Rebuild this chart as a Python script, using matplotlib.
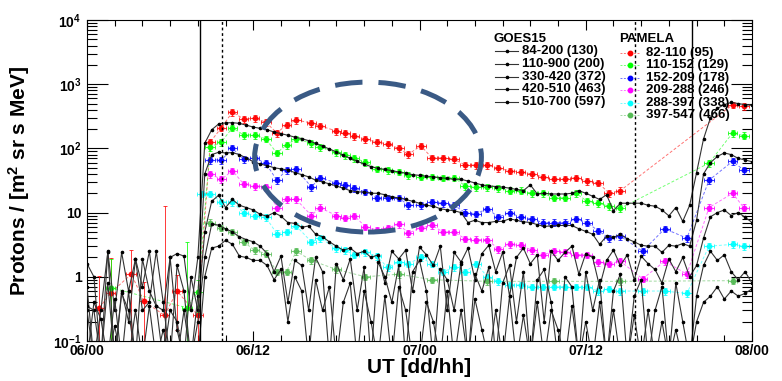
import numpy as np
import matplotlib.pyplot as plt
from matplotlib.patches import Ellipse
from matplotlib.lines import Line2D
from matplotlib.ticker import FixedLocator, NullFormatter, LogLocator

plt.rcParams['font.family'] = ['Liberation Sans', 'DejaVu Sans']
plt.rcParams['font.weight'] = 'bold'
plt.rcParams['mathtext.fontset'] = 'custom'
plt.rcParams['mathtext.rm'] = 'Liberation Sans:bold'
plt.rcParams['mathtext.bf'] = 'Liberation Sans:bold'
plt.rcParams['mathtext.default'] = 'bf'

# ---- GOES15 fluxes, one value every 30 min from 06/00 (0.05 = below range)
goes_84_200 = [
    1.6, 1.0, 0.05, 2.5, 0.3, 2.4, 0.6, 1.9, 0.7, 2.5,
    0.35, 0.3, 2.0, 2.3, 2.1, 0.3, 2.0, 120, 195, 240,
    250, 252, 245, 230, 215, 205, 195, 180, 170, 160,
    150, 142, 132, 120, 108, 98, 88, 78, 70, 63,
    57, 52, 49, 47, 45, 43, 41, 39, 38, 37,
    36, 35, 34, 33, 33, 31, 29, 27, 26, 25.5,
    25, 24, 23, 22, 27, 19.5, 20, 19.5, 19.5, 19.5,
    20, 22, 20, 18, 16, 19, 10.7, 14, 14, 14,
    14, 13, 12.6, 11, 8.9, 12, 7.3, 13, 42, 140,
    300, 420, 480, 520, 500, 480, 470]
goes_110_900 = [
    0.7, 0.05, 0.3, 2.4, 0.05, 0.6, 0.2, 1.9, 0.3, 0.4,
    2.5, 0.4, 0.05, 1.5, 0.6, 0.05, 0.5, 40, 80, 87,
    85, 86, 80, 71, 62, 57, 54, 50, 48, 46,
    42, 39, 36, 32, 30, 28, 26, 24, 22, 21,
    21, 20, 20, 19, 17.5, 17, 16, 15, 14, 13,
    12.6, 11.5, 11, 10.7, 10, 7, 7.6, 7, 7, 7.3,
    7.3, 8, 7.6, 7.2, 7, 6.5, 6.1, 6.2, 6.3, 6.3,
    6.3, 5.6, 5.1, 4.6, 3.2, 4.3, 4.1, 4.6, 3.9, 3.5,
    3.1, 3.0, 3.0, 2.4, 3.1, 3.0, 3.3, 3.0, 7.6, 40,
    60, 75, 85, 80, 70, 66, 62]
goes_330_420 = [
    0.35, 0.3, 0.05, 0.8, 0.05, 0.55, 0.3, 0.05, 1.9, 0.6,
    0.35, 0.05, 2.0, 0.15, 0.05, 1.0, 0.3, 5, 15, 18.6,
    12, 16, 13, 12, 11, 9.4, 8.8, 10, 8.8, 7,
    6.8, 5.9, 6.2, 4.6, 4.2, 3.5, 3.0, 2.6, 2.8, 2.3,
    2.5, 2.0, 2.2, 0.8, 2.5, 1.9, 2.6, 0.6, 2.9, 2.2,
    1.5, 3.0, 0.3, 2.4, 1.7, 2.8, 0.9, 2.3, 3.1, 1.2,
    2.4, 0.5, 2.0, 2.8, 1.6, 2.2, 0.2, 2.5, 1.8, 2.4,
    3.0, 1.1, 2.3, 2.0, 0.7, 1.8, 2.6, 1.5, 2.2, 0.9,
    2.1, 1.6, 1.3, 0.8, 1.9, 1.2, 2.0, 1.0, 1.5, 4,
    8.6, 10, 11, 9, 10, 8.5, 7]
goes_420_510 = [
    0.05, 0.4, 0.22, 0.05, 0.17, 0.05, 0.6, 0.05, 0.05, 0.35,
    0.05, 0.05, 0.3, 0.2, 0.05, 0.05, 0.2, 2, 6.6, 6.4,
    5.6, 5, 4.2, 3.8, 3.5, 3, 2.3, 1.2, 2.1, 0.4,
    1.8, 1.5, 0.3, 2.0, 1.2, 0.05, 1.6, 0.9, 1.9, 0.3,
    1.4, 0.05, 1.7, 1.0, 0.4, 1.5, 0.05, 1.2, 1.8, 0.6,
    0.05, 1.3, 0.9, 0.3, 1.6, 0.05, 1.1, 0.6, 1.4, 0.05,
    0.8, 1.5, 0.2, 1.2, 0.05, 0.9, 1.3, 0.4, 0.05, 1.0,
    0.7, 0.05, 1.2, 0.3, 0.9, 0.05, 0.6, 1.1, 0.05, 0.5,
    0.9, 0.05, 0.3, 0.7, 0.05, 0.8, 0.2, 0.05, 0.5, 1.5,
    2.5, 1.8, 2.2, 1.2, 0.9, 1.2, 0.8]
goes_510_700 = [
    0.3, 0.05, 0.05, 0.05, 0.45, 0.05, 0.05, 0.3, 0.05, 0.05,
    0.05, 0.15, 0.05, 0.05, 0.3, 0.05, 0.05, 1, 2.8, 3.0,
    3.7, 3.2, 2.1, 2.0, 1.8, 1.8, 1.5, 0.9, 1.3, 0.2,
    1.0, 0.6, 0.05, 0.9, 0.3, 0.7, 0.05, 0.4, 0.8, 0.05,
    0.6, 0.2, 0.05, 0.5, 0.05, 0.7, 0.3, 0.05, 0.05, 0.4,
    0.2, 0.05, 0.6, 0.05, 0.3, 0.05, 0.45, 0.15, 0.05, 0.3,
    0.05, 0.5, 0.05, 0.25, 0.05, 0.4, 0.05, 0.3, 0.15, 0.05,
    0.35, 0.05, 0.2, 0.05, 0.4, 0.05, 0.3, 0.05, 0.05, 0.25,
    0.05, 0.3, 0.05, 0.2, 0.05, 0.15, 0.05, 0.05, 0.2, 0.4,
    0.5, 0.7, 0.45, 0.6, 0.5, 0.55, 0.65]
goes_labels = ['84-200 (130)', '110-900 (200)', '330-420 (372)',
               '420-510 (463)', '510-700 (597)']

# ---- PAMELA fluxes (hours since 06/00)
pam_t_main = [8.9, 9.7, 10.5, 11.3, 12.1, 12.9, 13.7, 14.4, 15.1, 16.2,
              16.8, 18.0, 18.6, 19.3, 20.1, 20.9, 21.7, 22.5, 23.2, 24.1,
              24.9, 25.7, 26.5, 27.3, 28.1, 28.9, 29.7, 30.5, 31.3, 32.1,
              32.9, 33.7, 34.5, 35.3, 36.1, 36.9, 37.7, 38.5]
pam_t_late = [40.1, 41.7, 43.3, 44.9, 46.6, 47.4]

red_t = [0.9, 1.7, 3.2, 4.1, 5.6, 6.5, 8.0] + pam_t_main + [46.6, 47.4]
red_v = [0.33, 0.56, 1.1, 0.42, 0.25, 0.6, 0.25,
         126, 210, 369, 287, 294, 257, 174, 232, 276, 249,
         225, 187, 174, 155, 140, 126, 117, 100, 81, 110,
         71, 71, 68, 55, 55, 55, 49, 45, 43, 40,
         36, 33, 33, 35, 31, 29, 20, 22, 480, 450]
red_pre_err = [0.7, 1.4, 1.5, 0.4, 12.4, 0.45, 0.3]

green_t = [1.7, 7.2, 8.0] + pam_t_main + [44.9, 46.6, 47.4]
green_v = [0.68, 0.33, 0.58,
           105, 126, 210, 162, 162, 141, 85, 113, 141, 120,
           105, 87, 79, 71, 61, 48, 46, 43, 38, 36,
           36, 35, 35, 26, 25, 25, 24, 22, 22, 20,
           20, 17, 17, 20, 15, 14, 12.6, 11.7, 59, 174, 158]
green_pre_err = [1.2, 3.2, 0.3]

blue_t = pam_t_main + pam_t_late
blue_v = [66, 66, 100, 68, 71, 59, 32, 46, 48, 25,
          35, 29, 27, 24, 21, 17, 17, 17, 13, 13,
          14.6, 14, 13, 10, 9.6, 11.5, 8.5, 10, 8.5, 8,
          7, 7, 7, 8, 7, 5.2, 4, 4.3,
          2.5, 5.6, 4, 32, 63, 46]

magenta_t = pam_t_main + pam_t_late
magenta_v = [40, 33, 45, 28, 26, 25, 12, 16, 16, 9,
             12, 9, 8.3, 8.9, 6, 5.4, 5.8, 6.6, 4.8, 5.8,
             6.3, 5, 5, 3.9, 3.8, 3.8, 2.7, 3.2, 3.1, 2.6,
             2.2, 2.5, 2.4, 2.2, 2.2, 1.7, 1.6, 1.75,
             0.93, 1.75, 1.1, 12, 20, 12]

cyan_t = [8.3] + pam_t_main + pam_t_late
cyan_v = [19.6, 19.6, 14.6, 14.6, 10, 9, 8.5, 4.7, 5, 6.2, 3.5,
          4, 2.8, 2.6, 2.2, 2.4, 2.1, 1.4, 1.7, 1.6, 2,
          1.6, 1.2, 1.4, 1.2, 1.6, 1.0, 0.85, 0.75, 0.75, 0.7,
          0.7, 0.7, 0.7, 0.7, 0.7, 0.6, 0.65, 0.6,
          0.6, 0.6, 0.55, 3, 3.2, 3]

lgreen_t = [8.9, 9.7, 10.5, 11.3, 12.1, 12.9, 13.7, 14.4, 15.1, 16.2,
            18.0, 20.1, 22.5, 24.9, 28.9, 33.7, 38.5, 46.6]
lgreen_v = [7, 5.8, 5, 3.5, 2.6, 2.3, 1.2, 1.2, 2.5, 1.8,
            1.3, 1.0, 1.1, 0.9, 0.85, 0.85, 0.85, 0.87]

pamela = [
    ('82-110 (95)', '#ff0000', red_t, red_v, red_pre_err),
    ('110-152 (129)', '#00ff00', green_t, green_v, green_pre_err),
    ('152-209 (178)', '#0000ff', blue_t, blue_v, []),
    ('209-288 (246)', '#ff00ff', magenta_t, magenta_v, []),
    ('288-397 (338)', '#00ffff', cyan_t, cyan_v, []),
    ('397-547 (466)', '#55bb55', lgreen_t, lgreen_v, []),
]

# marked times (hours): SPE onset / ICME passages
solid_marks = [8.16, 43.67]
dashed_marks = [9.75, 39.55]

fig = plt.figure(figsize=(7.82, 3.81), dpi=100)
ax = fig.add_axes([87 / 782, 40 / 381, 665 / 782, 321 / 381])

for lab, col, t, v, pre_err in pamela:
    t = np.array(t, float)
    v = np.array(v, float)
    err = v * 0.12
    err[:len(pre_err)] = pre_err
    lo = np.minimum(err, v - 0.01)
    ax.plot(t, v, ls=(0, (3, 2)), lw=0.7, color=col, alpha=0.55, zorder=2)
    ax.errorbar(t, v, yerr=[lo, err], xerr=0.35, fmt='o', ms=3.2,
                color=col, ecolor=col, elinewidth=0.6, capsize=1.3,
                capthick=0.6, alpha=0.9, zorder=3)

goes_t = np.arange(len(goes_84_200)) * 0.5
for vals in [goes_84_200, goes_110_900, goes_330_420, goes_420_510, goes_510_700]:
    ax.plot(goes_t[:len(vals)], vals, '-', color='#333333', lw=0.8,
            marker='o', ms=1.6, mfc='black', mec='black', zorder=4)

for x in solid_marks:
    ax.axvline(x, color='black', lw=1.0, zorder=5)
for x in dashed_marks:
    ax.axvline(x, color='black', lw=1.0, ls=(0, (2, 2)), zorder=5)

ax.add_patch(Ellipse((0.4226, 0.573), 0.341, 0.467, transform=ax.transAxes,
                     fill=False, ec='#3a5a85', lw=3.6, ls=(0, (5.5, 3.2)),
                     zorder=6))

ax.set_yscale('log')
ax.set_ylim(0.1, 1e4)
ax.set_xlim(0, 48)
ax.set_xticks([0, 12, 24, 36, 48])
ax.set_xticklabels(['06/00', '06/12', '07/00', '07/12', '08/00'])
ax.xaxis.set_minor_locator(FixedLocator(np.arange(0, 49, 2)))
ax.set_yticks([0.1, 1, 10, 100, 1000, 10000])
ax.set_yticklabels([r'$10^{-1}$', '1', '10', r'$10^{2}$', r'$10^{3}$', r'$10^{4}$'])
ax.yaxis.set_minor_locator(LogLocator(base=10, subs=np.arange(2, 10)))
ax.yaxis.set_minor_formatter(NullFormatter())
ax.tick_params(axis='both', which='both', direction='in', top=True, right=True,
               labelsize=10, width=0.8)
ax.tick_params(axis='y', which='major', length=15, pad=4)
ax.tick_params(axis='y', which='minor', length=7.5)
ax.tick_params(axis='x', which='major', length=7, pad=2)
ax.tick_params(axis='x', which='minor', length=4)
for s in ax.spines.values():
    s.set_linewidth(0.8)

ax.set_ylabel('Protons / [m$^{2}$ sr s MeV]', fontsize=15, fontweight='bold',
              labelpad=4)
ax.set_xlabel('UT [dd/hh]', fontsize=15, fontweight='bold', labelpad=0)
ax.yaxis.set_label_coords(-0.082, 0.5)

# legend, drawn by hand in figure pixels
def fx(px):
    return px / 782
def fy(py):
    return 1 - py / 381

fig.text(fx(494), fy(39), 'GOES15', fontsize=9.5, fontweight='bold', va='center')
for i, lab in enumerate(goes_labels):
    y = 51 + i * 12.8
    fig.add_artist(Line2D([fx(495), fx(518)], [fy(y), fy(y)], color='#333333',
                          lw=0.8, marker=None))
    fig.add_artist(Line2D([fx(506.5)], [fy(y)], color='black', marker='o', ms=1.6))
    fig.text(fx(522), fy(y), lab, fontsize=9.5, fontweight='bold', va='center')

fig.text(fx(619), fy(39), 'PAMELA', fontsize=9.5, fontweight='bold', va='center')
for i, (lab, col, *_rest) in enumerate(pamela):
    y = 53 + i * 12.4
    fig.add_artist(Line2D([fx(620), fx(640)], [fy(y), fy(y)], color=col,
                          lw=0.7, ls=(0, (2, 1.5)), alpha=0.55))
    fig.add_artist(Line2D([fx(630)], [fy(y)], color=col, marker='o', ms=3.2))
    fig.text(fx(646), fy(y), lab, fontsize=9.5, fontweight='bold', va='center')

fig.savefig('out.png', dpi=100)
